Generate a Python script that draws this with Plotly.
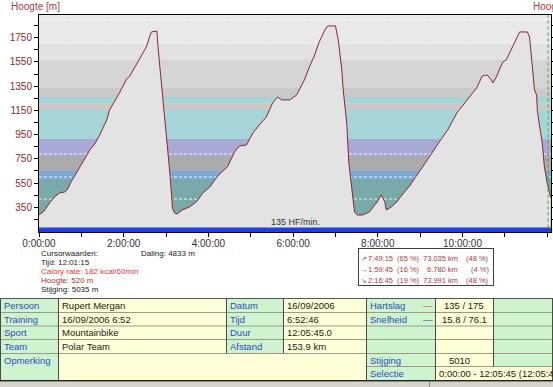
import plotly.graph_objects as go

# ---------------- data ----------------
# elevation profile: elapsed time (minutes) and altitude (m)
time_min = [0, 6, 15, 22, 29, 36, 40, 46, 53, 60, 67, 72, 79, 86, 96, 100, 114, 124, 128, 142,
            152, 159, 167, 169, 175, 179, 182, 185, 188, 189, 192, 196, 203, 213, 223, 232, 242, 252, 259, 267,
            277, 284, 294, 303, 312, 322, 331, 338, 344, 355, 365, 376, 383, 390, 397, 405, 409, 420, 424, 429,
            431, 436, 439, 443, 447, 451, 458, 468, 478, 485, 490, 492, 499, 507, 511, 525, 539, 553, 567, 579,
            592, 606, 620, 628, 635, 641, 643, 648, 657, 662, 671, 681, 692, 695, 699, 702, 705, 706, 709, 713,
            716, 720, 725]
elevation = [290, 311, 385, 435, 468, 476, 493, 567, 633, 699, 765, 823, 873, 947, 1071, 1153, 1294, 1409, 1426, 1566,
             1673, 1797, 1805, 1648, 1294, 1029, 848, 658, 435, 344, 303, 295, 328, 352, 394, 468, 517, 600, 641, 683,
             806, 856, 864, 963, 1029, 1095, 1211, 1260, 1236, 1236, 1277, 1401, 1508, 1599, 1715, 1814, 1847, 1847, 1731, 1483,
             1318, 1046, 716, 517, 311, 286, 286, 311, 385, 451, 394, 328, 352, 394, 427, 526, 641, 765, 889, 988,
             1128, 1236, 1335, 1434, 1442, 1401, 1376, 1426, 1549, 1566, 1673, 1797, 1797, 1756, 1508, 1318, 1277, 1153, 1029, 881,
             683, 550, 427]

x_tick_vals = [0, 60, 120, 180, 240, 300, 360, 420, 480, 540, 600, 660, 720]
x_tick_text = ["0:00:00", "", "2:00:00", "", "4:00:00", "", "6:00:00", "", "8:00:00", "", "10:00:00", "", "12:00:00"]
y_tick_vals = [250, 350, 450, 550, 650, 750, 850, 950, 1050, 1150, 1250, 1350, 1450, 1550, 1650, 1750, 1850]
y_tick_text = ["", "350", "", "550", "", "750", "", "950", "", "1150", "", "1350", "", "1550", "", "1750", ""]

# background zone bands (elevation-scale bounds) and their colours
band_low = [1706, 1566, 1335, 1260, 1207, 1153, 914, 774, 650, 584, 140]
band_high = [1940, 1706, 1566, 1335, 1260, 1207, 1153, 914, 774, 650, 584]
band_color = ["#e9e9e9", "#e2e2e2", "#d5d5d5", "#cacaca", "#a6d5d7", "#c9c9c9",
              "#a6d5d7", "#a9a9d6", "#ababab", "#7babd9", "#79a9a9"]
zone_lines = [1896, 1706, 790, 600, 418]

cursor_time = 721.25
avg_hr_text = "135 HF/min."

cursor_lines = ["Cursorwaarden:", "Tijd: 12:01:15", "Calory rate: 182 kcal/60min", "Hoogte: 520 m", "Stijging: 5035 m"]
daling_text = "Daling: 4833 m"

summary_arrow = ["↗", "→", "↘"]
summary_time = ["7:49:15", "1:59:45", "2:16:45"]
summary_tpct = ["(65 %)", "(16 %)", "(19 %)"]
summary_dist = ["73.035 km", "6.780 km", "73.991 km"]
summary_dpct = ["(48 %)", "(4 %)", "(48 %)"]

tbl_lab1 = ["Persoon", "Training", "Sport", "Team"]
tbl_val1 = ["Rupert Mergan", "16/09/2006 6:52", "Mountainbike", "Polar Team"]
tbl_lab2 = ["Datum", "Tijd", "Duur", "Afstand"]
tbl_val2 = ["16/09/2006", "6:52:46", "12:05:45.0", "153.9 km"]
tbl_lab3 = ["Hartslag", "Snelheid", "", ""]
tbl_val3 = ["135 / 175", "15.8 / 76.1", "", ""]
tbl_remark = "Opmerking"
tbl_stijging = ("Stijging", "5010")
tbl_selectie = ("Selectie", "0:00:00 - 12:05:45 (12:05:45)")

# ---------------- layout helpers ----------------
W, H = 553, 387
PL, PR, PT, PB = 39, 551, 15, 232
FONT = "Liberation Sans, Arial, sans-serif"


def fx(px):
    return (px - PL) / (PR - PL)


def fy(py):
    return (PB - py) / (PB - PT)


shapes = []
annotations = []


def rect(x0, y0, x1, y1, fill, layer="above"):
    shapes.append(dict(type="rect", xref="paper", yref="paper", x0=fx(x0), x1=fx(x1),
                       y0=fy(y1), y1=fy(y0), fillcolor=fill, line=dict(width=0), layer=layer))


def seg(x0, y0, x1, y1, color, width=1, dash="solid"):
    shapes.append(dict(type="line", xref="paper", yref="paper", x0=fx(x0), x1=fx(x1),
                       y0=fy(y0), y1=fy(y1), line=dict(color=color, width=width, dash=dash), layer="above"))


def text(px, py, s, color="#1a1a1a", size=9.5, anchor="left"):
    annotations.append(dict(xref="paper", yref="paper", x=fx(px), y=fy(py), text=s, showarrow=False,
                            xanchor=anchor, yanchor="middle", borderpad=0,
                            font=dict(family=FONT, size=size, color=color)))


# ---------------- chart ----------------
fig = go.Figure()
fig.add_trace(go.Scatter(x=time_min, y=elevation, mode="lines",
                         line=dict(color="#8e2433", width=1),
                         fill="tozeroy", fillcolor="#e3e3e3", hoverinfo="skip"))

for lo, hi, c in zip(band_low, band_high, band_color):
    shapes.append(dict(type="rect", xref="paper", yref="y", x0=0, x1=1, y0=lo, y1=hi,
                       fillcolor=c, line=dict(width=0), layer="below"))
for z in zone_lines:
    shapes.append(dict(type="line", xref="paper", yref="y", x0=0, x1=1, y0=z, y1=z,
                       line=dict(color="rgba(255,255,255,0.85)", width=1, dash="3px,2px"), layer="below"))

# blue average bar at bottom of plot
shapes.append(dict(type="rect", xref="paper", yref="paper", x0=0, x1=1, y0=0, y1=fy(227.5),
                   fillcolor="#1f3fe6", line=dict(width=0), layer="above"))
# cursor line
shapes.append(dict(type="line", xref="x", yref="paper", x0=cursor_time, x1=cursor_time,
                   y0=fy(227.5), y1=1, line=dict(color="#3aa83a", width=1, dash="dot"), layer="above"))

text(PL + 256, 222, avg_hr_text, color="#333333", size=9, anchor="center")
text(10, 7, "Hoogte [m]", color="#a83c3c", size=10)
text(532, 7, "Hoogte [m]", color="#a83c3c", size=10)

# cursor values
cur_colors = ["#222222", "#222222", "#e03a3a", "#b03030", "#222222"]
for i, (s, c) in enumerate(zip(cursor_lines, cur_colors)):
    text(40, 253.5 + i * 9.1, s, color=c, size=8)
text(140, 253.5, daling_text, color="#222222", size=8)

# summary box
rect(358, 248, 494, 286, "#ffffff")
seg(358.5, 248, 358.5, 286, "#404040")
seg(493.5, 248, 493.5, 286, "#404040")
seg(358, 248.5, 494, 248.5, "#404040")
seg(358, 285.5, 494, 285.5, "#404040")
sc = "#a83c3c"
for i in range(3):
    yy = 258 + i * 11.3
    text(359.5, yy, summary_arrow[i], color=sc, size=7)
    text(394, yy, summary_time[i], color=sc, size=7.5, anchor="right")
    text(421, yy, summary_tpct[i], color=sc, size=7.5, anchor="right")
    text(459, yy, summary_dist[i], color=sc, size=7.5, anchor="right")
    text(490, yy, summary_dpct[i], color=sc, size=7.5, anchor="right")

# ---------------- table ----------------
GREEN, YELLOW = "#cff3cf", "#fefed7"
cols = [0, 58, 226, 283, 366, 435, 493, 553]
rows = [298, 312, 325.5, 339, 353, 380]
col_fill = [GREEN, YELLOW, GREEN, YELLOW, GREEN, YELLOW, GREEN]
for r in range(4):
    for c in range(7):
        rect(cols[c], rows[r], cols[c + 1], rows[r + 1], col_fill[c])
# remark row
rect(0, 353, 58, 380, GREEN)
rect(58, 353, 366, 380, YELLOW)
rect(366, 353, 435, 380, GREEN)
rect(435, 353, 493, 366.5, YELLOW)
rect(493, 353, 553, 366.5, GREEN)
rect(435, 366.5, 553, 380, YELLOW)

LINE_V, LINE_H = "#4a4a4a", "#9a9a86"
for yy in rows[1:5]:
    seg(0, yy + 0.5, 553, yy + 0.5, LINE_H)
seg(366, 366.5, 553, 366.5, LINE_H)
seg(0, 298.5, 553, 298.5, "#555555")
seg(0, 380.5, 553, 380.5, "#222222")
for xx in cols[1:7]:
    seg(xx + 0.5, 298, xx + 0.5, 353, LINE_V)
seg(0.5, 298, 0.5, 380, LINE_V)
seg(58.5, 353, 58.5, 380, LINE_V)
seg(366.5, 353, 366.5, 380, LINE_V)
seg(435.5, 353, 435.5, 380, LINE_V)
seg(493.5, 353, 493.5, 366.5, LINE_V)
seg(552.5, 298, 552.5, 380, LINE_V)

LAB, VAL = "#2c4cbc", "#1a1a1a"
for r in range(4):
    yy = (rows[r] + rows[r + 1]) / 2 + 0.5
    text(3, yy, tbl_lab1[r], LAB)
    text(61, yy, tbl_val1[r], VAL)
    text(229, yy, tbl_lab2[r], LAB)
    text(286, yy, tbl_val2[r], VAL)
    if tbl_lab3[r]:
        text(369, yy, tbl_lab3[r], LAB)
        text(428, yy, "—", "#e03030" if r == 0 else "#2c4cbc", anchor="center")
        text(464, yy, tbl_val3[r], VAL, anchor="center")
text(3, 360, tbl_remark, LAB)
text(369, 360, tbl_stijging[0], LAB)
text(459, 360, tbl_stijging[1], VAL, anchor="center")
text(369, 373.5, tbl_selectie[0], LAB)
text(438, 373.5, tbl_selectie[1], VAL)

# status bar
rect(0, 381, 553, 387, "#d6d3cb")
seg(0, 381.5, 553, 381.5, "#8a8a8a")
seg(429.5, 381, 429.5, 387, "#8a8a8a")

fig.update_layout(
    template="none",
    width=W, height=H,
    margin=dict(l=PL, r=W - PR, t=PT, b=H - PB, pad=0),
    paper_bgcolor="#ffffff", plot_bgcolor="#e9e9e9",
    showlegend=False,
    font=dict(family=FONT, size=10, color="#333333"),
    shapes=shapes, annotations=annotations,
    xaxis=dict(range=[0, 725.4], tickmode="array", tickvals=x_tick_vals, ticktext=x_tick_text,
               ticks="outside", ticklen=4, tickcolor="#000000", showgrid=False, zeroline=False,
               showline=True, linecolor="#000000", linewidth=1, mirror=True, automargin=False,
               ticklabelstandoff=-2,
               tickfont=dict(family=FONT, size=10, color="#333333")),
    yaxis=dict(range=[146, 1937], tickmode="array", tickvals=y_tick_vals, ticktext=y_tick_text,
               ticks="outside", ticklen=4, tickcolor="#000000", showgrid=False, zeroline=False,
               showline=True, linecolor="#000000", linewidth=1, mirror="ticks", automargin=False,
               tickfont=dict(family=FONT, size=10, color="#8c2a2a")),
)

fig.write_html("out.html", config={"displayModeBar": False},
               post_script="document.body.style.margin='0';document.body.style.overflow='hidden';")
